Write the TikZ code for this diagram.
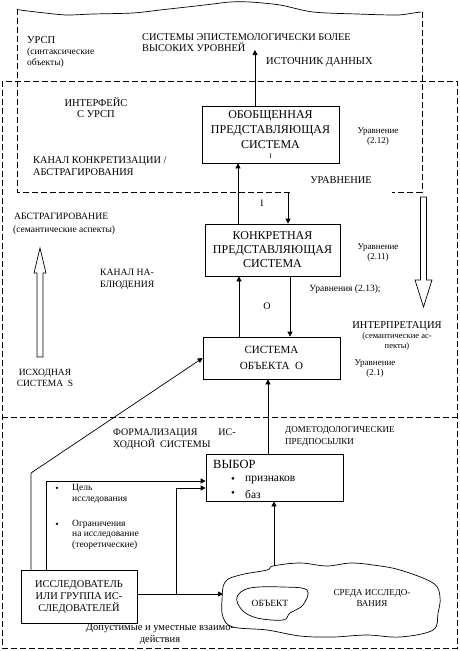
\documentclass[tikz,border=0pt]{standalone}
\usepackage{fontspec}
\setmainfont{Liberation Serif}
\usetikzlibrary{arrows.meta}
\begin{document}
\begin{tikzpicture}[x=1pt,y=-1pt,
  dsh/.style={line width=0.7pt, dash pattern=on 6pt off 3pt},
  ln/.style={line width=0.7pt},
  arr/.style={line width=0.7pt, -{Triangle[length=5pt,width=5pt]}},
  bx/.style={draw, line width=0.7pt, inner sep=0pt, align=center, font=\fontsize{12}{15}\selectfont},
  lbl/.style={inner sep=0pt, font=\fontsize{10}{12}\selectfont},
  sm/.style={inner sep=0pt, font=\fontsize{9.5}{11}\selectfont},
  hollow/.style={draw, line width=0.7pt, fill=white},
]
\useasboundingbox (0,0) rectangle (459,651);

% outer frame and separator
\draw[dsh] (2,81) rectangle (457,648);
\draw[dsh] (2,417) -- (457,417);

% URSP region
\draw[ln] plot[smooth, tension=0.5] coordinates {(17,9) (20,10) (45,13) (67,15) (93,14) (133,13) (160,10) (187,7) (213,4) (230,2) (250,2) (280,5) (313,12) (357,14) (397,15) (413,13) (421,12)};
\draw[dsh] (17,9) -- (17,192) -- (290,192);
\draw[dsh] (422,12) -- (422,192) -- (392,192);
\coordinate (iStart) at (288,192);

% boxes
\node[bx, minimum width=137pt, minimum height=57pt] (b1) at (270.5,134.5) {ОБОБЩЕННАЯ\\ПРЕДСТАВЛЯЮЩАЯ\\СИСТЕМА\\[-5pt]{\fontsize{7}{8}\selectfont I}};
\node[bx, minimum width=135pt, minimum height=52pt, font=\fontsize{12}{14}\selectfont] (b2) at (272.5,250) {КОНКРЕТНАЯ\\ПРЕДСТАВЛЯЮЩАЯ\\СИСТЕМА};
\node[bx, minimum width=137pt, minimum height=42pt, font=\fontsize{11}{16}\selectfont] (b3) at (271.5,358) {СИСТЕМА\\ОБЪЕКТА \ O};
\node[bx, minimum width=137pt, minimum height=47pt] (b4) at (274.5,477.5) {};
\node[bx, minimum width=116pt, minimum height=53pt, font=\fontsize{10.4}{12}\selectfont] (b5) at (79,597) {ИССЛЕДОВАТЕЛЬ\\ИЛИ ГРУППА ИС-\\СЛЕДОВАТЕЛЕЙ};

% box 4 content
\node[inner sep=0pt, anchor=west, font=\fontsize{12.5}{14}\selectfont] (vybor) at (213,464) {ВЫБОР};
\node[sm, font=\fontsize{11}{12}\selectfont] (d1) at (233,480) {•};
\node[sm, anchor=west, font=\fontsize{11.5}{12}\selectfont] (p1) at (245,480) {признаков};
\node[sm, font=\fontsize{11}{12}\selectfont] (d2) at (233,494) {•};
\node[sm, anchor=west, font=\fontsize{11.5}{12}\selectfont] (p2) at (245,494) {баз};

% blobs
\draw[ln] plot[smooth cycle, tension=0.6] coordinates {(225,582) (240,575) (267,570) (273,566) (300,563) (327,566) (350,563) (373,565) (400,570) (433,583) (440,597) (438,613) (433,630) (400,637) (367,635) (333,637) (300,636) (267,630) (233,627) (223,617) (222,600)};
\draw[ln] plot[smooth cycle, tension=0.6] coordinates {(237,597) (250,588) (283,587) (307,590) (303,605) (290,613) (283,620) (257,618) (242,610)};
\coordinate (blobW) at (223,594);
\coordinate (blobTop) at (274,566);
\node[sm] (obj) at (270,603) {ОБЪЕКТ};
\node[sm, align=center, font=\fontsize{9}{11}\selectfont] (sreda) at (372,598) {СРЕДА ИССЛЕДО-\\ВАНИЯ};

% connectors
\coordinate (src) at (255,50);
\draw[arr] (b1.north -| src) -- (src);
\draw[arr] (b2.north -| 238,0) -- (b1.south -| 238,0);
\draw[arr] (b3.north -| 239,0) -- (b2.south -| 239,0);
\draw[arr] (iStart) -- (b2.north -| iStart);
\draw[arr] (b2.south -| 290,0) -- (b3.north -| 290,0);
\draw[arr] (b4.north -| 268,0) -- (b3.south -| 268,0);
\draw[arr] (blobTop) -- (b4.south -| blobTop);
\draw[arr] (b5.east |- blobW) -- (blobW);
\coordinate (junc) at (176,594);
\draw[arr] (junc) -- (176,488) -- (b4.west |- 0,488);
\draw[arr] (b5.north -| 46,0) -- (46,481) -- (b4.west |- 0,481);
\draw[arr] (b5.north -| 31,0) -- (31,473) -- (b3.west);

% hollow arrows
\draw[hollow] (37,357) -- (37,273) -- (34,273) -- (40,248) -- (46,273) -- (43,273) -- (43,357) -- cycle;
\draw[hollow] (420.5,197) -- (420.5,280) -- (415,280) -- (423.5,307) -- (432,280) -- (426.5,280) -- (426.5,197) -- cycle;

% texts
\node[lbl, anchor=west, font=\fontsize{10.5}{12}\selectfont] (ursp) at (27,40) {УРСП};
\node[sm, anchor=west, align=left, font=\fontsize{9.5}{11.5}\selectfont] (urspb) at (27,57.5) {(синтаксические\\объекты)};
\node[lbl, anchor=west, align=left, font=\fontsize{10.3}{11}\selectfont] (higher) at (142,42.5) {СИСТЕМЫ ЭПИСТЕМОЛОГИЧЕСКИ БОЛЕЕ\\ВЫСОКИХ УРОВНЕЙ};
\node[lbl, anchor=west, font=\fontsize{10.5}{12}\selectfont] (istoch) at (266,62) {ИСТОЧНИК ДАННЫХ};
\node[lbl, align=center, font=\fontsize{10.5}{11.5}\selectfont] (interf) at (96,107.5) {ИНТЕРФЕЙС\\С УРСП};
\node[lbl, anchor=west, align=left, font=\fontsize{10.3}{12}\selectfont] (kanal1) at (33,166) {КАНАЛ КОНКРЕТИЗАЦИИ /\\АБСТРАГИРОВАНИЯ};
\node[sm, align=center, font=\fontsize{9}{10}\selectfont] (eq212) at (378,137) {Уравнение\\(2.12)};
\node[lbl, font=\fontsize{10.4}{12}\selectfont] (urav) at (341,180) {УРАВНЕНИЕ};
\node[sm] (lI) at (262,203) {I};
\node[sm, align=center, font=\fontsize{9}{10}\selectfont] (eq211) at (378,252.5) {Уравнение\\(2.11)};
\node[sm] (eq213) at (345,289) {Уравнения (2.13);};
\node[lbl] (lO) at (267,306) {O};
\node[lbl, font=\fontsize{10.5}{12}\selectfont] (interp) at (397,326) {ИНТЕРПРЕТАЦИЯ};
\node[sm, align=center, font=\fontsize{8.5}{10}\selectfont] (interpb) at (397,341) {(семантические ас-\\пекты)};
\node[sm, align=center, font=\fontsize{9}{10}\selectfont] (eq21) at (375,369) {Уравнение\\(2.1)};
\node[lbl, anchor=west, font=\fontsize{9.7}{12}\selectfont] (abstr) at (14,216) {АБСТРАГИРОВАНИЕ};
\node[sm, anchor=west, font=\fontsize{9.5}{11}\selectfont] (abstrb) at (13,230) {(семантические аспекты)};
\node[lbl, anchor=west, align=left, font=\fontsize{9.7}{12}\selectfont] (kanal2) at (100,279) {КАНАЛ НА-\\БЛЮДЕНИЯ};
\node[lbl, align=center, font=\fontsize{9.5}{11}\selectfont] (ishod) at (45,377.5) {ИСХОДНАЯ\\СИСТЕМА \ S};
\node[lbl, anchor=west, align=left, font=\fontsize{10}{12}\selectfont] (formal) at (113,439) {ФОРМАЛИЗАЦИЯ\hspace{21pt}ИС-\\ХОДНОЙ \ СИСТЕМЫ};
\node[lbl, anchor=west, align=left, font=\fontsize{9}{12}\selectfont] (dometod) at (285,436) {ДОМЕТОДОЛОГИЧЕСКИЕ\\ПРЕДПОСЫЛКИ};
\node[sm] (bl1) at (57,489) {•};
\node[sm, anchor=west, align=left, font=\fontsize{9.5}{11}\selectfont] (cel) at (72,493.5) {Цель\\исследования};
\node[sm] (bl2) at (57,525) {•};
\node[sm, anchor=west, align=left, font=\fontsize{9.5}{10.5}\selectfont] (ogr) at (72,534.5) {Ограничения\\на исследование\\(теоретические)};
\node[sm, align=center, font=\fontsize{10.5}{11.5}\selectfont] (dopust) at (160,634) {Допустимые и уместные взаимо-\\действия};
\end{tikzpicture}
\end{document}
